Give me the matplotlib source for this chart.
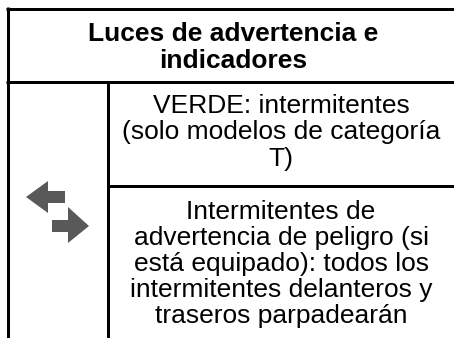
import matplotlib
matplotlib.use("Agg")
import matplotlib.pyplot as plt
from matplotlib.patches import Polygon

W, H = 454, 338
title_lines = ["Luces de advertencia e", "indicadores"]
cell1_lines = ["VERDE: intermitentes", "(solo modelos de categoría", "T)"]
cell2_lines = ["Intermitentes de", "advertencia de peligro (si", "está equipado): todos los",
               "intermitentes delanteros y", "traseros parpadearán"]

plt.rcParams['font.family'] = ['Liberation Sans', 'DejaVu Sans']
fig = plt.figure(figsize=(W/100, H/100), dpi=100, facecolor='white')
ax = fig.add_axes([0, 0, 1, 1])
ax.set_xlim(0, W)
ax.set_ylim(H, 0)
ax.axis('off')

LW = 3 * 72 / 100
line = dict(color='black', lw=LW, solid_capstyle='butt')
ax.plot([7.5, 7.5], [7, H], **line)
ax.plot([6, W], [8.5, 8.5], **line)
ax.plot([6, W], [81.5, 81.5], **line)
ax.plot([107.5, 107.5], [81.5, H], **line)
ax.plot([107.5, W], [185.5, 185.5], **line)

FS = 19.0
def block(lines, x, ys, **kw):
    for s, y in zip(lines, ys):
        ax.text(x, y, s, ha='center', va='baseline', fontsize=FS, color='black', **kw)

block(title_lines, 233.5, [41, 68], fontweight='bold')
block(cell1_lines, 281, [113, 139, 166])
block(cell2_lines, 281, [219, 245, 271, 297, 323])

gray = '#595959'
ax.add_patch(Polygon([(26, 197), (48, 181), (48, 191), (65, 191), (65, 203), (48, 203), (48, 213)],
                     closed=True, fc=gray, ec='none'))
ax.add_patch(Polygon([(89, 226), (68, 207), (68, 220), (52, 220), (52, 232), (68, 232), (68, 243)],
                     closed=True, fc=gray, ec='none'))

fig.savefig('out.png', dpi=100, facecolor='white')
